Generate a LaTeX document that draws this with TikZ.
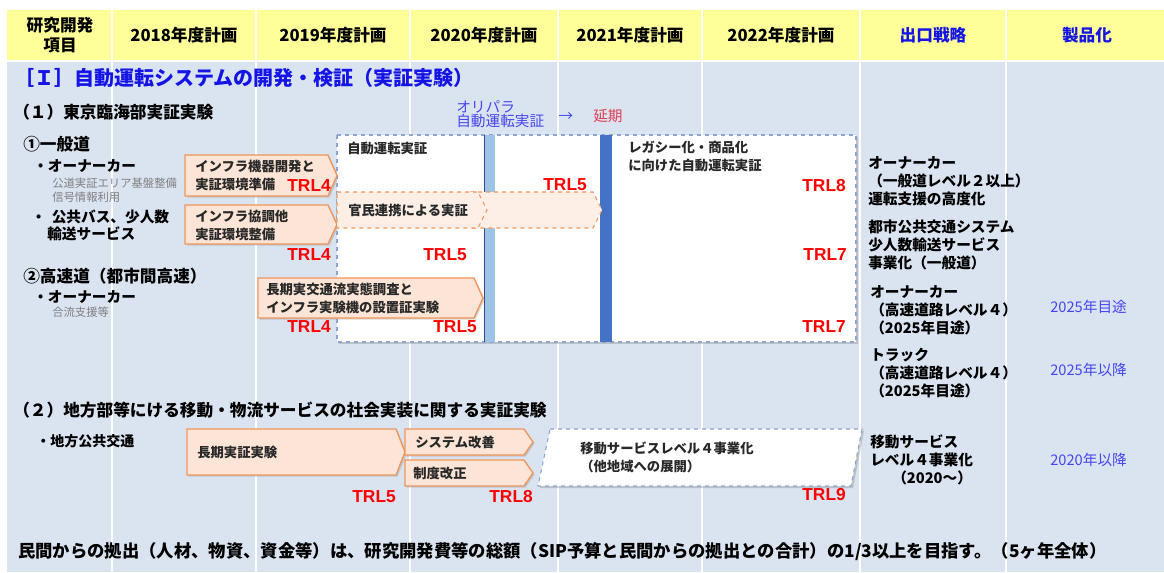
\documentclass[tikz,border=0pt]{standalone}
\usepackage{fontspec}
\setmainfont{Noto Sans CJK JP}
\newfontfamily\trlfont{Liberation Sans}
\usepackage{tikz}
\usetikzlibrary{math}
\usetikzlibrary{shadows}
\definecolor{hdrfill}{RGB}{255,255,153}
\definecolor{bodyfill}{RGB}{218,227,240}
\definecolor{boxfill}{RGB}{252,228,214}
\definecolor{boxline}{RGB}{240,150,90}
\definecolor{frameline}{RGB}{140,165,210}
\definecolor{barlight}{RGB}{157,195,230}
\definecolor{bardark}{RGB}{68,114,196}
\definecolor{ttlblue}{RGB}{20,20,230}
\definecolor{noteblue}{RGB}{70,70,240}
\definecolor{delayred}{RGB}{225,60,80}
\definecolor{txtgray}{RGB}{40,40,40}
\tikzstyle{colline} = [draw=white, line width=1pt]
\tikzstyle{hdr} = [inner sep=0pt, font=\bfseries\fontsize{12.5}{14.5}\selectfont]
\tikzstyle{lbl} = [inner sep=0pt, anchor=west, font=\bfseries\fontsize{12.5}{15}\selectfont]
\tikzstyle{itm} = [inner sep=0pt, anchor=west, font=\bfseries\fontsize{11}{13}\selectfont]
\tikzstyle{sub} = [inner sep=0pt, anchor=west, text=gray, font=\fontsize{8.5}{10.5}\selectfont]
\tikzstyle{boxtxt} = [inner sep=0pt, anchor=west, align=left, text=txtgray, font=\bfseries\fontsize{10}{13.5}\selectfont]
\tikzstyle{exit} = [inner sep=0pt, anchor=west, align=left, font=\bfseries\fontsize{11}{13.5}\selectfont]
\tikzstyle{note} = [inner sep=0pt, anchor=west, text=noteblue, font=\fontsize{11}{12}\selectfont]
\tikzstyle{trl} = [inner sep=0pt, anchor=east, text=red, font=\trlfont\bfseries\fontsize{13}{14}\selectfont]
\tikzstyle{orbox} = [fill=boxfill, draw=boxline, line width=1pt, drop shadow={shadow xshift=1.2pt, shadow yshift=-1.2pt, opacity=0.3}]
\tikzstyle{orboxd} = [fill=boxfill!60!white, draw=boxline, dashed, line width=0.8pt]
\tikzstyle{frame} = [fill=white, draw=frameline, dashed, line width=0.8pt, drop shadow={shadow xshift=1.5pt, shadow yshift=-1.5pt, opacity=0.35}]

\begin{document}
\begin{tikzpicture}[x=0.75pt, y=-0.75pt]

  \tikzmath{\tp = 9; \ytop = 10; \yhdr = 60; \ybody = 62; \pw = 1164; \ph = 572;}

  \useasboundingbox (0,0) rectangle (\pw,\ph);

  % table
  \fill[hdrfill] (7,\ytop) rectangle (\pw,\yhdr);
  \fill[bodyfill] (7,\ybody) rectangle (\pw,\ph);
  \foreach \x in {112,256,410,558,702,860,1006} {
    \draw[colline] (\x,\ytop) -- (\x,\ph);
  }

  % header
  \node[hdr, align=center] (hitem) at (60,35) {研究開発\\項目};
  \foreach \x/\t/\n in {184/2018/h18, 333/2019/h19, 484/2020/h20, 630/2021/h21, 781/2022/h22} {
    \node[hdr] (\n) at (\x,35) {\t 年度計画};
  }
  \node[hdr, text=ttlblue] (hexit) at (933,35) {出口戦略};
  \node[hdr, text=ttlblue] (hprod) at (1087,35) {製品化};

  % [I]
  \node[lbl, text=ttlblue, font=\bfseries\fontsize{15}{17}\selectfont] (title) at (14,78) {［Ｉ］自動運転システムの開発・検証（実証実験）};
  \node[lbl] (sec1) at (13,112) {（１）東京臨海部実証実験};
  \node[note, align=left, font=\fontsize{11}{10.5}\selectfont] (olypara) at (456,114) {オリパラ\\自動運転実証};
  \node[note, anchor=center] (olyarrow) at (566,117) {→};
  \node[note, text=delayred] (delay) at (593,116) {延期};

  \node[lbl] (road1) at (23,144) {①一般道};
  \node[itm] (owner1) at (33,166) {・オーナーカー};
  \node[sub] (owner1a) at (52,183) {公道実証エリア基盤整備};
  \node[sub] (owner1b) at (52,197) {信号情報利用};
  \node[itm] (bus1) at (31,217) {・\hspace{0.4em}公共バス、少人数};
  \node[itm] (bus2) at (47,234) {輸送サービス};
  \node[lbl] (road2) at (23,276) {②高速道（都市間高速）};
  \node[itm] (owner2) at (33,297) {・オーナーカー};
  \node[sub] (owner2a) at (52,312) {合流支援等};

  % frame with bars
  \draw[frame] (337,135) rectangle (856,342);
  \fill[barlight] (484,135) rectangle (495,342);
  \draw[bardark!70!black, line width=0.5pt] (484,135) -- (484,342);
  \fill[bardark] (600,135) rectangle (612,342);

  % arrows
  \draw[orbox] (185,155) -- ({337-\tp},155) -- (337,175.5) -- ({337-\tp},196) -- (185,196) -- cycle;
  \draw[orbox] (185,205) -- ({337-\tp},205) -- (337,224.5) -- ({337-\tp},244) -- (185,244) -- cycle;
  \draw[orbox] (258,278) -- ({483-\tp},278) -- (483,298) -- ({483-\tp},318) -- (258,318) -- cycle;
  \draw[orboxd] (470,192) -- ({602-\tp},192) -- (602,210) -- ({602-\tp},228) -- (470,228) -- cycle;
  \draw[orboxd] (337,192) -- ({487-\tp},192) -- (487,210) -- ({487-\tp},228) -- (337,228) -- cycle;

  \node[boxtxt] (infra1) at (195,175) {インフラ機器開発と\\実証環境準備};
  \node[boxtxt] (infra2) at (195,225) {インフラ協調他\\実証環境整備};
  \node[boxtxt] (survey) at (266,298) {長期実交通流実態調査と\\インフラ実験機の設置証実験};
  \node[boxtxt] (pubpriv) at (348,210) {官民連携による実証};
  \node[boxtxt] (autodrv) at (347,148) {自動運転実証};
  \node[boxtxt] (legacy) at (628,156) {レガシー化・商品化\\に向けた自動運転実証};

  \node[trl] (trla) at (331,186) {TRL4};
  \node[trl] (trlb) at (331,255) {TRL4};
  \node[trl] (trlc) at (331,327) {TRL4};
  \node[trl] (trld) at (587,185) {TRL5};
  \node[trl] (trle) at (467,255) {TRL5};
  \node[trl] (trlf) at (477,327) {TRL5};
  \node[trl] (trlg) at (846,186) {TRL8};
  \node[trl] (trlh) at (847,255) {TRL7};
  \node[trl] (trli) at (846,327) {TRL7};

  % exit strategy
  \node[exit] (exit1) at (868,181) {オーナーカー\\（一般道レベル２以上）\\運転支援の高度化};
  \node[exit] (exit2) at (868,245) {都市公共交通システム\\少人数輸送サービス\\事業化（一般道）};
  \node[exit] (exit3) at (870,310) {オーナーカー\\（高速道路レベル４）\\（2025年目途）};
  \node[exit] (exit4) at (870,373) {トラック\\（高速道路レベル４）\\（2025年目途）};
  \node[note] (prod3) at (1050,307) {2025年目途};
  \node[note] (prod4) at (1050,370) {2025年以降};

  % (2)
  \node[lbl] (sec2) at (13,410) {（２）地方部等にける移動・物流サービスの社会実装に関する実証実験};
  \node[lbl, font=\bfseries\fontsize{10.5}{12}\selectfont] (local) at (36,441) {・地方公共交通};

  \draw[orbox] (187,429) -- ({405-\tp},429) -- (405,452) -- ({405-\tp},475) -- (187,475) -- cycle;
  \draw[orbox] (405,429) -- ({533-\tp},429) -- (533,442) -- ({533-\tp},455) -- (405,455) -- cycle;
  \draw[orbox] (405,460) -- ({533-\tp},460) -- (533,473) -- ({533-\tp},486) -- (405,486) -- cycle;
  \draw[frame] (550,429) -- (862,429) -- (851,486) -- (538,486) -- cycle;

  \node[boxtxt] (longexp) at (197,452) {長期実証実験};
  \node[boxtxt] (sysimp) at (415,442) {システム改善};
  \node[boxtxt] (regrev) at (413,473) {制度改正};
  \node[boxtxt] (mobil) at (580,457) {移動サービスレベル４事業化\\（他地域への展開）};

  \node[trl] (trlj) at (396,497) {TRL5};
  \node[trl] (trlk) at (533,497) {TRL8};
  \node[trl] (trll) at (846,495) {TRL9};

  \node[exit] (exit5) at (870,460) {移動サービス\\レベル４事業化\\\hspace*{1.5em}（2020～）};
  \node[note] (prod5) at (1050,460) {2020年以降};

  % bottom
  \node[lbl, font=\bfseries\fontsize{13}{15}\selectfont] (invest) at (18,552) {民間からの拠出（人材、物資、資金等）は、研究開発費等の総額（SIP予算と民間からの拠出との合計）の1/3以上を目指す。（5ヶ年全体）};

\end{tikzpicture}
\end{document}
